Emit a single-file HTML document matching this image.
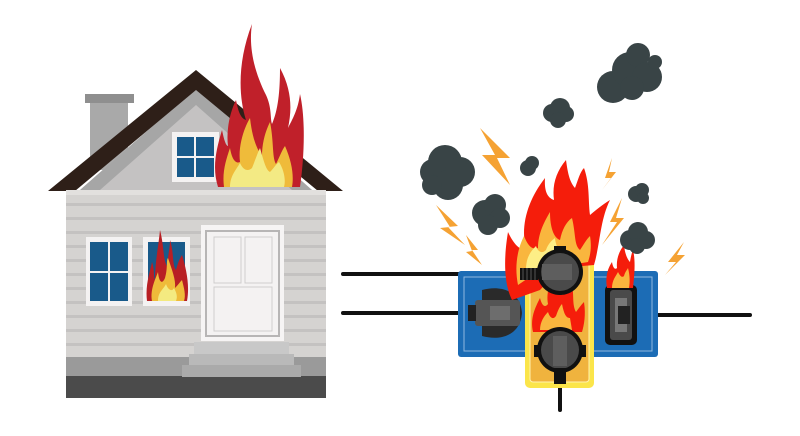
<!DOCTYPE html>
<html><head><meta charset="utf-8"><style>html,body{margin:0;padding:0;background:#fff;width:800px;height:436px;overflow:hidden}</style></head>
<body>
<svg width="800" height="436" viewBox="0 0 800 436" xmlns="http://www.w3.org/2000/svg">
<rect x="90" y="100" width="38" height="70" fill="#a9a9a9"/>
<rect x="85" y="94" width="49" height="9" fill="#8f8f8f"/>
<polygon points="196,88 80,190 312,190" fill="#c4c2c2"/>
<polygon points="196,88 80,190 100,190 196,105 292,190 312,190" fill="#a6a6a6"/>
<polygon points="196,70 48,191 75,191 196,90 318,191 343,191" fill="#2e1f18"/>
<rect x="172" y="132" width="47" height="50" fill="#f4f2f2"/>
<rect x="177" y="137" width="37" height="40" fill="#195a8a"/>
<rect x="194" y="137" width="2" height="40" fill="#f4f2f2"/><rect x="177" y="156" width="37" height="2" fill="#f4f2f2"/>
<rect x="66" y="190" width="260" height="188" fill="#d5d3d1"/>
<rect x="66" y="190" width="260" height="5" fill="#e2e0de"/>
<g fill="#c4c2c1">
<rect x="66" y="203" width="260" height="3"/><rect x="66" y="217" width="260" height="3"/><rect x="66" y="231" width="260" height="3"/><rect x="66" y="245" width="260" height="3"/><rect x="66" y="259" width="260" height="3"/><rect x="66" y="273" width="260" height="3"/><rect x="66" y="287" width="260" height="3"/><rect x="66" y="301" width="260" height="3"/><rect x="66" y="315" width="260" height="3"/><rect x="66" y="329" width="260" height="3"/><rect x="66" y="343" width="260" height="3"/>
</g>
<rect x="66" y="357" width="260" height="21" fill="#9a9a9a"/>
<rect x="66" y="376" width="260" height="22" fill="#4b4b4b"/>
<rect x="86" y="237" width="46" height="69" fill="#f4f2f2"/>
<rect x="90" y="242" width="38" height="59" fill="#195a8a"/>
<rect x="108" y="242" width="2" height="59" fill="#f4f2f2"/><rect x="90" y="271" width="38" height="2" fill="#f4f2f2"/>
<rect x="143" y="237" width="47" height="69" fill="#f4f2f2"/>
<rect x="148" y="242" width="37" height="59" fill="#195a8a"/>
<path d="M147,301 C145,285 150,272 152,262 C155,270 153,276 155,280 C155,262 158,250 160,230 C164,245 163,260 167,266 C168,255 170,248 170,240 C174,252 172,265 176,270 C178,262 180,258 182,255 C186,268 190,285 187,301Z" fill="#b81f24"/>
<path d="M152,301 C150,290 155,280 158,272 C159,282 162,285 165,278 C168,268 166,260 168,258 C172,270 176,280 175,288 C178,285 180,282 182,280 C184,288 186,295 184,301Z" fill="#efbb3a"/>
<path d="M158,301 C158,292 163,290 166,284 C168,290 172,292 174,288 C176,292 178,296 176,301Z" fill="#f4ea80"/>
<rect x="201" y="225" width="83" height="116" fill="#f6f4f4"/>
<rect x="205" y="230" width="75" height="107" fill="#b7b5b5"/>
<rect x="207" y="232" width="71" height="103" fill="#f4f2f2"/>
<rect x="214" y="237" width="27" height="46" fill="#f4f2f2" stroke="#cfcdcd"/>
<rect x="245" y="237" width="27" height="46" fill="#f4f2f2" stroke="#cfcdcd"/>
<rect x="214" y="287" width="58" height="44" fill="#f4f2f2" stroke="#cfcdcd"/>
<rect x="194" y="342" width="95" height="12" fill="#c8c8c8"/>
<rect x="189" y="354" width="105" height="11" fill="#b9b9b9"/>
<rect x="182" y="365" width="119" height="12" fill="#aaaaaa"/>
<!-- roof fire -->
<path d="M218,187 C212,168 216,150 222,130 C224,140 226,146 228,146 C226,130 230,112 236,100 C238,110 240,118 246,120 C238,95 238,60 252,24 C248,50 256,75 266,95 C272,108 270,118 272,124 C278,110 280,92 280,68 C292,90 292,110 288,128 C292,120 298,110 300,94 C306,120 304,160 300,187Z" fill="#c0202a"/>
<path d="M224,187 C222,172 226,160 230,148 C232,160 236,164 240,162 C238,146 244,128 250,118 C252,136 256,148 262,156 C262,142 266,130 270,122 C274,142 272,158 276,164 C280,156 282,150 285,146 C292,162 294,176 292,187Z" fill="#efbb3a"/>
<path d="M230,187 C230,176 236,170 240,163 C243,170 248,172 252,168 C256,158 258,152 260,148 C264,162 266,170 270,172 C274,168 276,164 279,162 C284,170 286,180 284,187Z" fill="#f3ea84"/>
<g stroke="#111" stroke-width="4" stroke-linecap="round" fill="none">
<line x1="343" y1="274" x2="530" y2="274"/>
<line x1="343" y1="313" x2="470" y2="313"/>
<line x1="620" y1="315" x2="750" y2="315"/>
<line x1="560" y1="375" x2="560" y2="410"/>
</g>
<rect x="458" y="271" width="200" height="86" rx="3" fill="#1c6cb5"/>
<rect x="464" y="277" width="188" height="74" fill="none" stroke="#8fb8e0" stroke-width="1"/>
<path d="M482,290 C500,285 520,290 522,313 C520,336 500,341 482,336Z" fill="#2a2a2a"/>
<rect x="475" y="300" width="45" height="26" rx="3" fill="#555"/>
<rect x="490" y="306" width="20" height="14" fill="#6d6d6d"/>
<rect x="468" y="305" width="8" height="16" fill="#222"/>
<rect x="605" y="285" width="32" height="60" rx="5" fill="#111"/>
<rect x="610" y="290" width="22" height="50" rx="3" fill="#4a4a4a"/>
<rect x="615" y="298" width="12" height="34" fill="#777"/>
<rect x="618" y="306" width="12" height="18" fill="#222"/>
<rect x="525" y="232" width="69" height="156" rx="5" fill="#fbe54a"/>
<rect x="530" y="238" width="59" height="144" rx="3" fill="#f0b33e" stroke="#fff3b0" stroke-width="1"/>
<!-- strip flames -->
<path d="M512,300 C502,280 505,250 508,232 C514,245 520,250 526,250 C520,225 528,200 545,178 C544,192 548,198 554,200 C552,185 556,172 566,160 C568,175 570,182 575,188 C578,180 580,172 584,168 C590,185 588,200 590,215 C596,210 602,205 610,200 C600,220 600,245 594,265 L560,268 L540,290Z" fill="#f51d0b"/>
<path d="M518,285 C514,265 518,248 524,236 C528,246 532,250 538,248 C538,234 544,222 550,212 C550,228 554,238 560,240 C562,230 566,222 572,218 C576,235 574,245 580,250 C584,244 586,240 590,236 C592,248 590,256 588,262 L540,270Z" fill="#f9b63e"/>
<path d="M526,270 C526,258 530,252 536,246 C538,252 542,254 546,250 C548,244 552,240 555,238 C556,248 560,252 564,252 L566,262Z" fill="#fdee86"/>
<path d="M533,332 C530,318 535,308 540,298 C542,306 545,308 548,304 C546,292 550,282 555,275 C556,288 560,294 563,295 C565,288 568,283 572,280 C574,295 572,305 576,312 C579,308 581,305 584,302 C586,315 584,325 582,332Z" fill="#f51d0b"/>
<path d="M540,330 C540,322 544,316 548,312 C550,318 553,320 556,316 C558,310 560,306 562,304 C564,314 566,318 570,318 L572,330Z" fill="#f9b63e"/>
<path d="M607,288 C605,276 608,268 612,262 C613,268 615,270 617,268 C616,258 620,250 624,245 C625,255 628,260 630,262 C631,256 632,252 633,250 C636,262 634,278 633,288Z" fill="#f51d0b"/>
<path d="M612,288 C612,280 616,276 618,272 C620,276 622,278 624,276 C625,272 627,270 628,268 C630,276 630,282 629,288Z" fill="#f9b63e"/>
<circle cx="560" cy="272" r="23" fill="#111"/>
<circle cx="560" cy="272" r="19" fill="#4a4a4a"/>
<rect x="542" y="264" width="30" height="16" fill="#5e5e5e"/>
<rect x="554" y="246" width="12" height="6" fill="#111"/>
<rect x="520" y="268" width="18" height="12" fill="#111"/>
<g stroke="#555" stroke-width="1"><line x1="523" y1="268" x2="523" y2="280"/><line x1="527" y1="268" x2="527" y2="280"/><line x1="531" y1="268" x2="531" y2="280"/><line x1="535" y1="268" x2="535" y2="280"/></g>
<circle cx="560" cy="350" r="23" fill="#111"/>
<circle cx="560" cy="350" r="19" fill="#4a4a4a"/>
<rect x="553" y="336" width="14" height="30" fill="#5e5e5e"/>
<rect x="534" y="345" width="6" height="12" fill="#111"/><rect x="580" y="345" width="6" height="12" fill="#111"/>
<rect x="554" y="368" width="12" height="16" fill="#111"/>
<g fill="#394446">
<circle cx="433" cy="172" r="13"/><circle cx="445" cy="162" r="17"/><circle cx="460" cy="172" r="15"/><circle cx="448" cy="185" r="15"/><circle cx="432" cy="185" r="10"/>
<circle cx="485" cy="213" r="13"/><circle cx="495" cy="205" r="11"/><circle cx="500" cy="218" r="10"/><circle cx="488" cy="225" r="10"/>
<circle cx="528" cy="168" r="8"/><circle cx="532" cy="163" r="7"/>
<circle cx="552" cy="113" r="9"/><circle cx="560" cy="108" r="10"/><circle cx="566" cy="114" r="8"/><circle cx="558" cy="120" r="8"/>
<circle cx="613" cy="87" r="16"/><circle cx="630" cy="70" r="18"/><circle cx="638" cy="55" r="12"/><circle cx="647" cy="77" r="15"/><circle cx="655" cy="62" r="7"/><circle cx="632" cy="88" r="12"/>
<circle cx="636" cy="194" r="8"/><circle cx="642" cy="190" r="7"/><circle cx="643" cy="198" r="6"/>
<circle cx="630" cy="240" r="10"/><circle cx="638" cy="232" r="10"/><circle cx="646" cy="240" r="9"/><circle cx="637" cy="246" r="8"/>
</g>
<g fill="#f5a233">
<polygon points="480,128 510,158 497,158 510,185 482,155 495,155"/>
<polygon points="436,205 458,226 448,227 465,245 440,228 450,227"/>
<polygon points="466,235 478,250 472,250 482,265 466,252 472,251"/>
<polygon points="612,158 605,178 611,178 602,190 616,172 609,172"/>
<polygon points="622,198 610,222 617,222 602,245 624,218 616,218"/>
<polygon points="684,242 668,262 676,262 665,275 685,255 677,255"/>
</g>
</svg>
</body></html>
